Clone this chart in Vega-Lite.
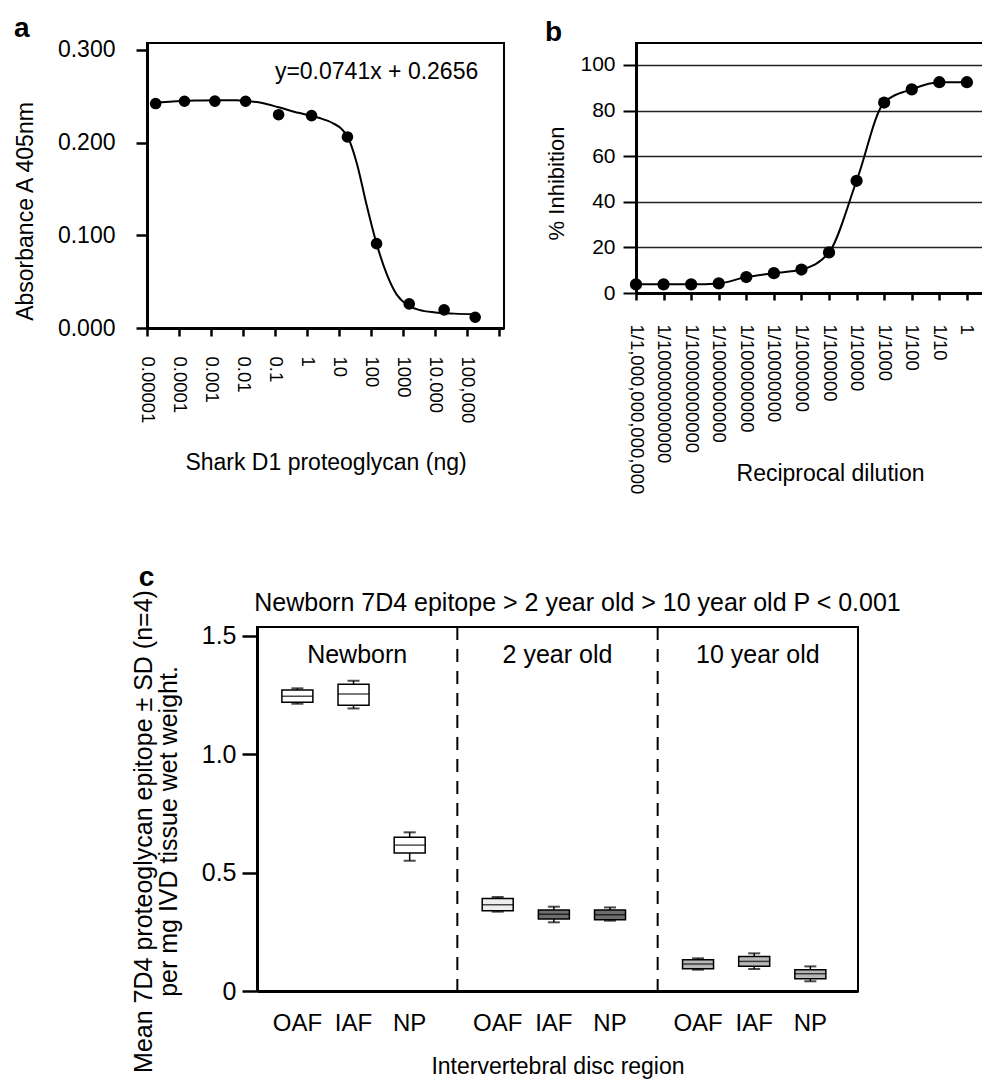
{
  "$schema": "https://vega.github.io/schema/vega-lite/v6.json",
  "background": "white",
  "padding": {"left": 12, "top": 13, "right": 0, "bottom": 0},
  "config": {
    "font": "Liberation Sans",
    "view": {"stroke": "black", "strokeWidth": 2},
    "axis": {"grid": false, "domainColor": "black", "tickColor": "black", "labelColor": "black", "titleColor": "black", "titleFontWeight": "normal", "labelLimit": 400, "labelOverlap": false, "labelFlush": false, "labelBound": false},
    "title": {"color": "black"}
  },
  "datasets": {
    "curveA": [
      {"x": -4.73, "y": 0.2428}, {"x": -4.2, "y": 0.2442}, {"x": -3.5, "y": 0.2452}, {"x": -2.8, "y": 0.2457},
      {"x": -2.2, "y": 0.2455}, {"x": -1.92, "y": 0.2448}, {"x": -1.4, "y": 0.2425}, {"x": -0.89, "y": 0.238},
      {"x": -0.27, "y": 0.232}, {"x": 0.36, "y": 0.2267}, {"x": 0.8, "y": 0.221}, {"x": 1.09, "y": 0.2142},
      {"x": 1.27, "y": 0.2059}, {"x": 1.55, "y": 0.178}, {"x": 1.85, "y": 0.134}, {"x": 2.17, "y": 0.091},
      {"x": 2.5, "y": 0.057}, {"x": 2.8, "y": 0.036}, {"x": 3.1, "y": 0.0255}, {"x": 3.5, "y": 0.0195},
      {"x": 4.0, "y": 0.0168}, {"x": 4.6, "y": 0.0155}, {"x": 5.25, "y": 0.0147}
    ],
    "pointsA": [
      {"x": -4.73, "y": 0.242}, {"x": -3.83, "y": 0.2445}, {"x": -2.88, "y": 0.2446}, {"x": -1.92, "y": 0.2445},
      {"x": -0.89, "y": 0.230}, {"x": 0.14, "y": 0.229}, {"x": 1.26, "y": 0.206}, {"x": 2.17, "y": 0.091},
      {"x": 3.19, "y": 0.026}, {"x": 4.28, "y": 0.0196}, {"x": 5.25, "y": 0.0116}
    ],
    "pointsB": [
      {"i": 0, "v": 3.8}, {"i": 1, "v": 3.8}, {"i": 2, "v": 3.8}, {"i": 3, "v": 4.2}, {"i": 4, "v": 7.0},
      {"i": 5, "v": 8.7}, {"i": 6, "v": 10.3}, {"i": 7, "v": 17.8}, {"i": 8, "v": 49.2}, {"i": 9, "v": 83.5},
      {"i": 10, "v": 89.3}, {"i": 11, "v": 92.4}, {"i": 12, "v": 92.4}
    ],
    "boxes": [
      {"group": "Newborn", "region": "OAF", "lo": 1.213, "q1": 1.219, "median": 1.245, "q3": 1.271, "hi": 1.278},
      {"group": "Newborn", "region": "IAF", "lo": 1.193, "q1": 1.207, "median": 1.254, "q3": 1.295, "hi": 1.310},
      {"group": "Newborn", "region": "NP", "lo": 0.550, "q1": 0.583, "median": 0.616, "q3": 0.649, "hi": 0.670},
      {"group": "2 year old", "region": "OAF", "lo": 0.335, "q1": 0.339, "median": 0.364, "q3": 0.391, "hi": 0.397},
      {"group": "2 year old", "region": "IAF", "lo": 0.290, "q1": 0.304, "median": 0.324, "q3": 0.342, "hi": 0.356},
      {"group": "2 year old", "region": "NP", "lo": 0.297, "q1": 0.301, "median": 0.322, "q3": 0.342, "hi": 0.353},
      {"group": "10 year old", "region": "OAF", "lo": 0.090, "q1": 0.094, "median": 0.114, "q3": 0.132, "hi": 0.138},
      {"group": "10 year old", "region": "IAF", "lo": 0.093, "q1": 0.104, "median": 0.125, "q3": 0.146, "hi": 0.159},
      {"group": "10 year old", "region": "NP", "lo": 0.041, "q1": 0.052, "median": 0.073, "q3": 0.090, "hi": 0.104}
    ],
    "groups": [{"group": "Newborn"}, {"group": "2 year old"}, {"group": "10 year old"}],
    "dividers": [{"group": "2 year old"}, {"group": "10 year old"}]
  },
  "columns": 1,
  "align": "none",
  "spacing": 67,
  "concat": [
    {
      "spacing": 34,
      "hconcat": [
        {
          "width": 357,
          "height": 285,
          "title": {"text": "a", "anchor": "start", "frame": "bounds", "fontSize": 28, "fontWeight": "bold", "offset": -4},
          "layer": [
            {
              "encoding": {
                "x": {"field": "x", "type": "quantitative", "scale": {"domain": [-5, 6.15], "nice": false, "zero": false},
                  "axis": {"values": [-5, -4, -3, -2, -1, 0, 1, 2, 3, 4, 5, 6],
                    "labelExpr": "['0.00001','0.0001','0.001','0.01','0.1','1','10','100','1000','10.000','100,000',''][datum.value + 5]",
                    "labelAngle": 90, "labelFontSize": 18.5, "labelPadding": 20, "labelOverlap": false, "labelFlush": false, "tickSize": 8, "tickWidth": 2.5, "domainWidth": 3,
                    "title": "Shark D1 proteoglycan (ng)", "titleFontSize": 23, "titleY": 134, "titleBaseline": "middle"}},
                "y": {"field": "y", "type": "quantitative", "scale": {"domain": [0, 0.3073], "nice": false, "zero": false},
                  "axis": {"values": [0, 0.1, 0.2, 0.3], "format": ".3f", "labelFontSize": 23, "labelPadding": 21, "labelOverlap": false, "tickSize": 11, "tickWidth": 2.5, "domainWidth": 3,
                    "title": "Absorbance A 405nm", "titleFontSize": 23, "titleX": -122, "titleY": 168, "titleBaseline": "middle"}}
              },
              "layer": [
                {"data": {"name": "curveA"}, "mark": {"type": "line", "interpolate": "monotone", "color": "black", "strokeWidth": 2}},
                {"data": {"name": "pointsA"}, "mark": {"type": "circle", "size": 135, "color": "black", "opacity": 1}}
              ]
            },
            {
              "data": {"values": [{"eq": "y=0.0741x + 0.2656"}]},
              "mark": {"type": "text", "fontSize": 23, "color": "black", "align": "center", "baseline": "middle"},
              "encoding": {
                "x": {"datum": 2.17, "type": "quantitative",
                  "axis": {"values": [-5, -4, -3, -2, -1, 0, 1, 2, 3, 4, 5, 6],
                    "labelExpr": "['0.00001','0.0001','0.001','0.01','0.1','1','10','100','1000','10.000','100,000',''][datum.value + 5]",
                    "labelAngle": 90, "labelFontSize": 18.5, "labelPadding": 20, "labelOverlap": false, "labelFlush": false, "tickSize": 8, "tickWidth": 2.5, "domainWidth": 3,
                    "title": "Shark D1 proteoglycan (ng)", "titleFontSize": 23, "titleY": 134, "titleBaseline": "middle"}},
                "y": {"datum": 0.276, "type": "quantitative",
                  "axis": {"values": [0, 0.1, 0.2, 0.3], "format": ".3f", "labelFontSize": 23, "labelPadding": 21, "labelOverlap": false, "tickSize": 11, "tickWidth": 2.5, "domainWidth": 3,
                    "title": "Absorbance A 405nm", "titleFontSize": 23, "titleX": -122, "titleY": 168, "titleBaseline": "middle"}},
                "text": {"field": "eq", "type": "nominal"}
              }
            }
          ]
        },
        {
          "width": 348,
          "height": 250,
          "title": {"text": "b", "anchor": "start", "frame": "bounds", "fontSize": 28, "fontWeight": "bold", "offset": -4},
          "data": {"name": "pointsB"},
          "encoding": {
            "x": {"field": "i", "type": "quantitative", "scale": {"domain": [0, 12.62], "nice": false, "zero": false},
              "axis": {"values": [0, 1, 2, 3, 4, 5, 6, 7, 8, 9, 10, 11, 12],
                "labelExpr": "['1/1,000,000,000,000','1/100000000000','1/10000000000','1/1000000000','1/100000000','1/10000000','1/1000000','1/100000','1/10000','1/1000','1/100','1/10','1'][datum.value]",
                "labelAngle": 90, "labelFontSize": 18.5, "labelPadding": 24, "labelOverlap": false, "tickSize": 7, "tickWidth": 2.5, "domainWidth": 3,
                "title": "Reciprocal dilution", "titleFontSize": 23, "titleX": 194, "titleY": 180, "titleBaseline": "middle"}},
            "y": {"field": "v", "type": "quantitative", "scale": {"domain": [0, 109.6], "nice": false},
              "axis": {"values": [0, 20, 40, 60, 80, 100], "grid": true, "gridColor": "#222222", "gridWidth": 1.5, "labelFontSize": 21, "labelPadding": 8, "tickSize": 13, "tickWidth": 2, "domainWidth": 3,
                "title": "% Inhibition", "titleFontSize": 22, "titleX": -80, "titleY": 140, "titleBaseline": "middle"}}
          },
          "layer": [
            {"mark": {"type": "line", "interpolate": "monotone", "color": "black", "strokeWidth": 2}},
            {"mark": {"type": "circle", "size": 150, "color": "black", "opacity": 1}}
          ]
        }
      ]
    },
    {
      "spacing": -22,
      "hconcat": [
        {"width": 1, "height": 10, "view": {"stroke": null}, "data": {"values": [{}]}, "mark": {"type": "point", "opacity": 0}, "encoding": {}},
        {
          "width": 601,
          "height": 364,
          "resolve": {"axis": {"x": "independent", "y": "independent"}},
          "layer": [
            {
              "data": {"name": "boxes"},
              "mark": {"type": "rule", "color": "black", "strokeWidth": 1.5},
              "encoding": {
                "x": {"field": "group", "type": "nominal", "scale": {"domain": ["Newborn", "2 year old", "10 year old"], "paddingInner": 0, "paddingOuter": 0},
                  "axis": {"orient": "bottom", "labels": false, "ticks": false, "domainWidth": 3, "title": "Intervertebral disc region", "titleFontSize": 23, "titleY": 75, "titleBaseline": "middle"}},
                "xOffset": {"field": "region", "type": "nominal", "scale": {"domain": ["OAF", "IAF", "NP"], "paddingInner": 0, "paddingOuter": 0.284, "align": 0.386}},
                "y": {"field": "lo", "type": "quantitative", "scale": {"domain": [0, 1.537], "nice": false},
                  "axis": {"orient": "left", "values": [0, 0.5, 1, 1.5], "labelExpr": "datum.value == 0 ? '0' : format(datum.value, '.1f')", "labelFontSize": 25, "labelPadding": 6, "tickSize": 15, "tickWidth": 2.5, "domainWidth": 3,
                    "title": ["Mean 7D4 proteoglycan epitope ± SD (n=4)", "per mg IVD tissue wet weight."], "titleFontSize": 25, "titleLineHeight": 25, "titleX": -114, "titleY": 204, "titleBaseline": "middle"}},
                "y2": {"field": "hi"}
              }
            },
            {
              "data": {"name": "dividers"},
              "mark": {"type": "rule", "strokeDash": [13, 9], "strokeWidth": 2, "color": "black"},
              "encoding": {
                "x": {"field": "group", "type": "nominal", "bandPosition": 0, "axis": null}
              }
            },
            {
              "data": {"name": "groups"},
              "mark": {"type": "text", "fontSize": 25, "color": "black"},
              "encoding": {
                "x": {"field": "group", "type": "nominal", "axis": null},
                "y": {"datum": 1.42, "type": "quantitative", "axis": null},
                "text": {"field": "group"}
              }
            },
            {
              "data": {"name": "boxes"},
              "mark": {"type": "bar", "width": 31, "stroke": "black", "strokeWidth": 1.5},
              "encoding": {
                "x": {"field": "group", "type": "nominal", "axis": null},
                "xOffset": {"field": "region", "type": "nominal"},
                "y": {"field": "q1", "type": "quantitative", "axis": null},
                "y2": {"field": "q3"},
                "fill": {"condition": [
                  {"test": "datum.group === '2 year old' && datum.region !== 'OAF'", "value": "#6e6e6e"},
                  {"test": "datum.group === '2 year old'", "value": "#eeeeee"},
                  {"test": "datum.group === '10 year old'", "value": "#b8b8b8"}
                ], "value": "white"}
              }
            },
            {
              "data": {"name": "boxes"},
              "mark": {"type": "tick", "size": 31, "thickness": 1.5, "color": "black"},
              "encoding": {
                "x": {"field": "group", "type": "nominal", "axis": null},
                "xOffset": {"field": "region", "type": "nominal"},
                "y": {"field": "median", "type": "quantitative", "axis": null}
              }
            },
            {
              "data": {"name": "boxes"},
              "mark": {"type": "tick", "size": 12, "thickness": 2, "color": "black"},
              "encoding": {
                "x": {"field": "group", "type": "nominal", "axis": null},
                "xOffset": {"field": "region", "type": "nominal"},
                "y": {"field": "lo", "type": "quantitative", "axis": null}
              }
            },
            {
              "data": {"name": "boxes"},
              "mark": {"type": "tick", "size": 12, "thickness": 2, "color": "black"},
              "encoding": {
                "x": {"field": "group", "type": "nominal",
                  "axis": {"orient": "top", "labels": false, "ticks": false, "domain": false, "title": "Newborn 7D4 epitope > 2 year old > 10 year old P < 0.001", "titleFontSize": 25, "titleX": 320, "titleY": -25, "titleAlign": "center", "titleBaseline": "middle"}},
                "xOffset": {"field": "region", "type": "nominal"},
                "y": {"field": "hi", "type": "quantitative",
                  "axis": {"orient": "right", "labels": false, "ticks": false, "domain": false, "title": "c", "titleAngle": 0, "titleFontSize": 28, "titleFontWeight": "bold", "titleX": -712, "titleY": -50, "titleAlign": "center", "titleBaseline": "middle"}}
              }
            },
            {
              "data": {"name": "boxes"},
              "mark": {"type": "text", "fontSize": 24, "color": "black"},
              "encoding": {
                "x": {"field": "group", "type": "nominal", "axis": null},
                "xOffset": {"field": "region", "type": "nominal"},
                "y": {"datum": -0.14, "type": "quantitative", "axis": null},
                "text": {"field": "region"}
              }
            }
          ]
        }
      ]
    }
  ]
}
